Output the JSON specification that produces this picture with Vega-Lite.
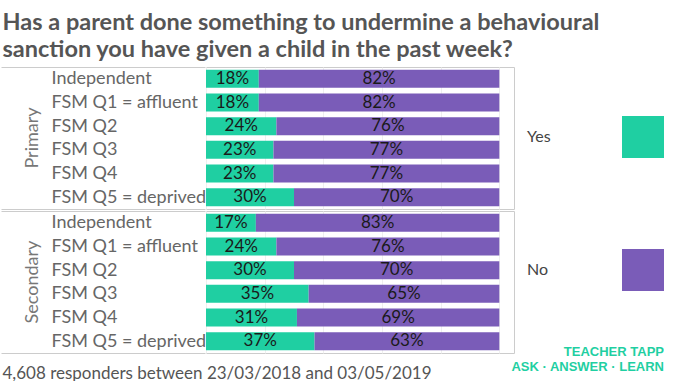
{
  "$schema": "https://vega.github.io/schema/vega-lite/v6.json",
  "padding": {"left": 0, "top": 10, "right": 0, "bottom": 0},
  "background": "white",
  "title": {
    "text": ["Has a parent done something to undermine a behavioural", "sanction you have given a child in the past week?"],
    "anchor": "start",
    "frame": "bounds",
    "font": "Lato",
    "fontSize": 23.5,
    "fontWeight": "bold",
    "color": "#555555",
    "lineHeight": 27,
    "offset": -3,
    "dx": 2
  },
  "data": {
    "values": [
      {"phase": "Primary", "group": "Independent", "answer": "Yes", "value": 0.18},
      {"phase": "Primary", "group": "Independent", "answer": "No", "value": 0.82},
      {"phase": "Primary", "group": "FSM Q1 = affluent", "answer": "Yes", "value": 0.18},
      {"phase": "Primary", "group": "FSM Q1 = affluent", "answer": "No", "value": 0.82},
      {"phase": "Primary", "group": "FSM Q2", "answer": "Yes", "value": 0.24},
      {"phase": "Primary", "group": "FSM Q2", "answer": "No", "value": 0.76},
      {"phase": "Primary", "group": "FSM Q3", "answer": "Yes", "value": 0.23},
      {"phase": "Primary", "group": "FSM Q3", "answer": "No", "value": 0.77},
      {"phase": "Primary", "group": "FSM Q4", "answer": "Yes", "value": 0.23},
      {"phase": "Primary", "group": "FSM Q4", "answer": "No", "value": 0.77},
      {"phase": "Primary", "group": "FSM Q5 = deprived", "answer": "Yes", "value": 0.30},
      {"phase": "Primary", "group": "FSM Q5 = deprived", "answer": "No", "value": 0.70},
      {"phase": "Secondary", "group": "Independent", "answer": "Yes", "value": 0.17},
      {"phase": "Secondary", "group": "Independent", "answer": "No", "value": 0.83},
      {"phase": "Secondary", "group": "FSM Q1 = affluent", "answer": "Yes", "value": 0.24},
      {"phase": "Secondary", "group": "FSM Q1 = affluent", "answer": "No", "value": 0.76},
      {"phase": "Secondary", "group": "FSM Q2", "answer": "Yes", "value": 0.30},
      {"phase": "Secondary", "group": "FSM Q2", "answer": "No", "value": 0.70},
      {"phase": "Secondary", "group": "FSM Q3", "answer": "Yes", "value": 0.35},
      {"phase": "Secondary", "group": "FSM Q3", "answer": "No", "value": 0.65},
      {"phase": "Secondary", "group": "FSM Q4", "answer": "Yes", "value": 0.31},
      {"phase": "Secondary", "group": "FSM Q4", "answer": "No", "value": 0.69},
      {"phase": "Secondary", "group": "FSM Q5 = deprived", "answer": "Yes", "value": 0.37},
      {"phase": "Secondary", "group": "FSM Q5 = deprived", "answer": "No", "value": 0.63}
    ]
  },
  "facet": {
    "row": {
      "field": "phase",
      "type": "nominal",
      "sort": ["Primary", "Secondary"],
      "title": null,
      "header": {
        "labelAngle": -90,
        "labelOrient": "left",
        "labelFont": "Lato",
        "labelFontSize": 18,
        "labelColor": "#777777",
        "labelPadding": -50
      }
    }
  },
  "spacing": 0,
  "spec": {
    "width": 308,
    "height": 142,
    "layer": [
      {
        "mark": {"type": "bar", "height": {"band": 0.76}},
        "encoding": {
          "y": {
            "field": "group",
            "type": "nominal",
            "sort": ["Independent", "FSM Q1 = affluent", "FSM Q2", "FSM Q3", "FSM Q4", "FSM Q5 = deprived"],
            "scale": {"paddingInner": 0, "paddingOuter": 0},
            "axis": {
              "title": null,
              "domain": false,
              "grid": false,
              "ticks": true,
              "tickBand": "extent",
              "tickSize": 204,
              "tickWidth": 1,
              "tickColor": {"condition": {"test": "datum.index < 0 || datum.index === 1", "value": "#cccccc"}, "value": "transparent"},
              "labelAlign": "left",
              "labelPadding": -50,
              "labelFont": "Lato",
              "labelFontSize": 18,
              "labelColor": "#666666",
              "labelLimit": 0
            }
          },
          "x": {
            "field": "value",
            "type": "quantitative",
            "stack": "zero",
            "scale": {"domain": [0, 1.05], "nice": false},
            "axis": {
              "values": [0, 0.2, 0.4, 0.6, 0.8, 1],
              "labels": false,
              "ticks": false,
              "domain": false,
              "grid": true,
              "gridColor": "#efefef",
              "title": "4,608 responders between 23/03/2018 and 03/05/2019",
              "titleX": -204,
              "titleY": 24,
              "titleAlign": "left",
              "titleAnchor": "start",
              "titleBaseline": "alphabetic",
              "titleFont": "Lato",
              "titleFontSize": 17,
              "titleFontWeight": "normal",
              "titleColor": "#555555"
            }
          },
          "color": {
            "field": "answer",
            "type": "nominal",
            "scale": {"domain": ["Yes", "No"], "range": ["#1fcfa2", "#7a5cb8"]},
            "legend": {
              "orient": "none",
              "legendX": 305,
              "legendY": 49,
              "title": ["TEACHER TAPP", "ASK · ANSWER · LEARN"],
              "titleOrient": "bottom",
              "titleAnchor": "end",
              "titleColor": "#1fcfa2",
              "titleFont": "Liberation Sans",
              "titleFontSize": 13,
              "titleFontWeight": "bold",
              "titleLineHeight": 15,
              "titlePadding": 55,
              "titleLimit": 0,
              "symbolType": "square",
              "symbolSize": 1764,
              "symbolStrokeWidth": 0,
              "symbolOpacity": 1,
              "symbolOffset": 0,
              "labelOffset": -137,
              "labelAlign": "left",
              "labelFont": "Lato",
              "labelFontSize": 16,
              "labelColor": "#444444",
              "labelLimit": 0,
              "rowPadding": 91
            }
          },
          "order": {"field": "answer", "sort": "descending"}
        }
      },
      {
        "mark": {"type": "text", "font": "Lato", "fontSize": 17, "color": "#1a1a1a"},
        "encoding": {
          "y": {
            "field": "group",
            "type": "nominal",
            "sort": ["Independent", "FSM Q1 = affluent", "FSM Q2", "FSM Q3", "FSM Q4", "FSM Q5 = deprived"]
          },
          "x": {"field": "value", "type": "quantitative", "stack": "zero", "bandPosition": 0.5},
          "detail": {"field": "answer"},
          "order": {"field": "answer", "sort": "descending"},
          "text": {"field": "value", "type": "quantitative", "format": ".0%"}
        }
      }
    ]
  },
  "config": {
    "view": {"stroke": "#cccccc", "strokeWidth": 1},
    "font": "Lato"
  }
}
